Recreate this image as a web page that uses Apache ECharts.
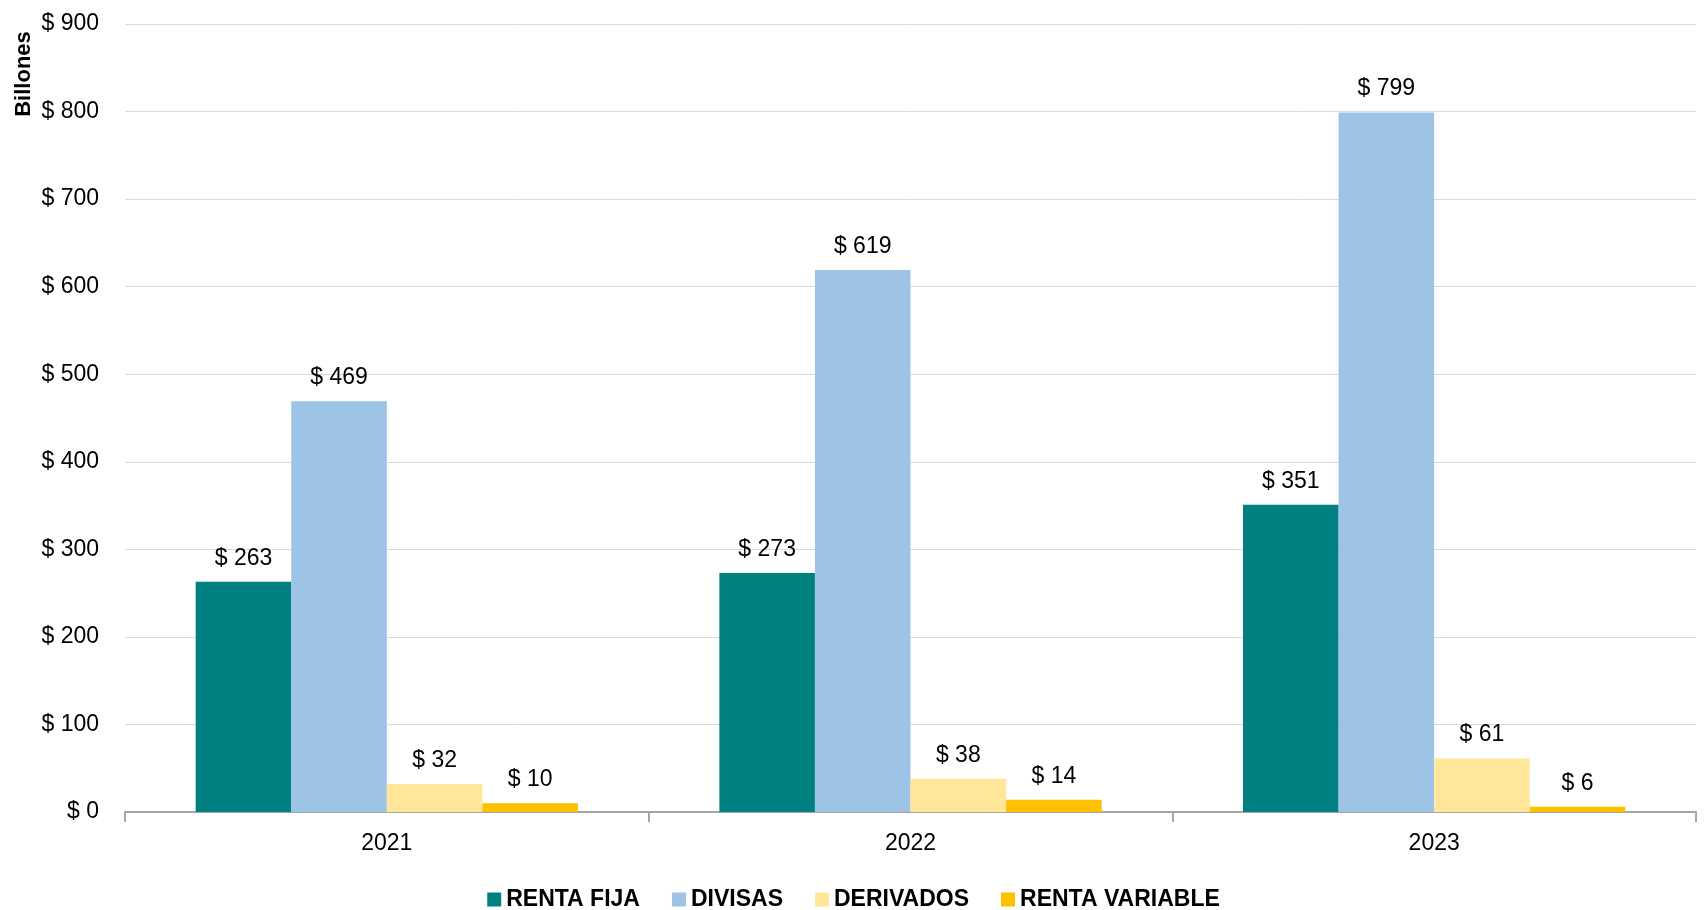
<!DOCTYPE html>
<html>
<head>
<meta charset="utf-8">
<script src="https://cdn.jsdelivr.net/npm/echarts@6/dist/echarts.min.js"></script>
<style>
  html,body{margin:0;padding:0;background:#fff;}
  #chart{width:1707px;height:910px;}
</style>
</head>
<body>
<div id="chart"></div>
<script>
var years = ['2021', '2022', '2023'];
var rentaFija = [263, 273, 351];
var divisas = [469, 619, 799];
var derivados = [32, 38, 61];
var rentaVariable = [10, 14, 6];
var seriesNames = ['RENTA FIJA', 'DIVISAS', 'DERIVADOS', 'RENTA VARIABLE'];
var seriesColors = ['#008080', '#9DC3E6', '#FFE699', '#FFC000'];

var font = '"Liberation Sans Narrow", "Arial Narrow", "Liberation Sans", Arial, sans-serif';
var chart = echarts.init(document.getElementById('chart'));

function makeSeries(name, values, color){
  return {
    name: name,
    type: 'bar',
    barGap: 0,
    barCategoryGap: '27%',
    itemStyle: {color: color},
    label: {
      show: true,
      position: 'top',
      distance: 12,
      formatter: '$ {c}',
      color: '#000',
      fontFamily: font,
      fontSize: 23
    },
    data: values
  };
}

var option = {
  backgroundColor: '#fff',
  animation: false,
  grid: {left: 125, right: 11, top: 24, bottom: 98, containLabel: false, outerBoundsMode: 'none'},
  graphic: [{
    type: 'text',
    x: 24,
    y: 74,
    rotation: Math.PI / 2,
    style: {
      text: 'Billones',
      fontFamily: font,
      fontSize: 22,
      fontWeight: 'bold',
      fill: '#000',
      align: 'center',
      verticalAlign: 'middle'
    }
  }],
  legend: {
    data: seriesNames,
    bottom: -6,
    left: 'center',
    icon: 'rect',
    itemWidth: 14,
    itemHeight: 14,
    itemGap: 32,
    textStyle: {fontFamily: font, fontSize: 23, fontWeight: 'bold', color: '#000'}
  },
  xAxis: {
    type: 'category',
    data: years,
    axisLine: {lineStyle: {color: '#a6a6a6', width: 2}},
    axisTick: {show: true, length: 10, lineStyle: {color: '#a6a6a6', width: 2}},
    axisLabel: {color: '#000', fontFamily: font, fontSize: 23, margin: 20}
  },
  yAxis: {
    type: 'value',
    min: 0,
    max: 900,
    interval: 100,
    axisLine: {show: false},
    axisTick: {show: false},
    axisLabel: {formatter: '$ {value}', color: '#000', fontFamily: font, fontSize: 23, margin: 26},
    splitLine: {lineStyle: {color: '#d9d9d9', width: 1}}
  },
  series: [
    makeSeries(seriesNames[0], rentaFija, seriesColors[0]),
    makeSeries(seriesNames[1], divisas, seriesColors[1]),
    makeSeries(seriesNames[2], derivados, seriesColors[2]),
    makeSeries(seriesNames[3], rentaVariable, seriesColors[3])
  ]
};
chart.setOption(option);
</script>
</body>
</html>
